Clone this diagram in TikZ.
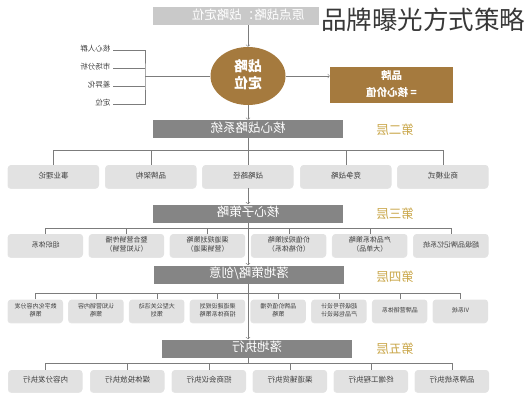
\documentclass[tikz,border=0pt]{standalone}
\usepackage{fontspec}
\usepackage{graphicx}
\usepackage{tikz}
\usepackage{xcolor}
\usetikzlibrary{shapes.geometric, shadows}
\newfontfamily\cjk{Noto Sans CJK SC}
\definecolor{brandbrown}{HTML}{A57A3E}
\definecolor{bargray}{HTML}{858585}
\definecolor{topgray}{HTML}{C9C9C9}
\definecolor{cellgray}{HTML}{E2E2E2}
\definecolor{linegray}{HTML}{7C7C7C}
\definecolor{layergold}{HTML}{C9A649}
\newcommand{\flip}[1]{\reflectbox{\begin{tabular}{@{}c@{}}#1\end{tabular}}}

\begin{document}
\begin{tikzpicture}[x=1pt, y=-1pt,
    conn/.style={draw=linegray, line width=0.6pt},
    topbar/.style={rectangle, fill=topgray, text=white, inner sep=0pt, minimum width=190pt, minimum height=18pt, font={\cjk\fontsize{12.5}{13}\selectfont}},
    bar/.style={rectangle, fill=bargray, text=white, inner sep=0pt, minimum width=190pt, minimum height=18pt, font={\cjk\fontsize{12.5}{13}\selectfont}},
    layer/.style={text=layergold, inner sep=0pt, font={\cjk\fontsize{12.5}{13}\selectfont}},
    cell/.style={rectangle, rounded corners=3pt, fill=cellgray, text=black!75, inner sep=0pt, minimum height=23pt, drop shadow={shadow xshift=-0.5pt, shadow yshift=-0.8pt, opacity=0.2}},
    cellii/.style={cell, minimum width=91pt, font={\cjk\fontsize{7.5}{9}\selectfont}},
    celliii/.style={cell, minimum width=75pt, font={\cjk\fontsize{7}{8.5}\selectfont}},
    celliv/.style={cell, minimum width=55pt, font={\cjk\fontsize{6}{7.5}\selectfont}},
    cellv/.style={cell, minimum width=74pt, minimum height=22pt, font={\cjk\fontsize{7.5}{9}\selectfont}},
    tag/.style={text=black!75, inner sep=2.5pt, anchor=east, font={\cjk\fontsize{7.5}{8}\selectfont}}
]
\useasboundingbox (0,0) rectangle (527,400);

\node[topbar] (top) at (248,16) {\flip{原点战略：战略定位}};
\node[fill=white, text=black!78, inner sep=2pt, anchor=west, font={\cjk\fontsize{25.5}{26}\selectfont}] (title) at (319,20) {品牌曝光方式策略};

\node[ellipse, fill=brandbrown, text=white, inner sep=0pt, minimum width=75pt, minimum height=58pt, font={\cjk\bfseries\fontsize{14}{16}\selectfont}] (hub) at (248,76) {\flip{战略\\定位}};
\node[rectangle, fill=brandbrown, text=white, inner sep=0pt, minimum width=123pt, minimum height=36pt, font={\cjk\bfseries\fontsize{10.5}{17}\selectfont}] (brand) at (391.5,85) {\flip{品牌\\= 核心价值}};

\node[tag] (t1) at (113,50) {\flip{核心人群}};
\node[tag] (t2) at (113,68) {\flip{市场分析}};
\node[tag] (t3) at (113,86) {\flip{差异化}};
\node[tag] (t4) at (113,104) {\flip{定位}};
\coordinate (tj) at (145,76);

\draw[conn, ->] (top) -- (hub);
\draw[conn, ->] (hub) -- (hub -| brand.west);
\draw[conn] (hub) -- (tj);
\draw[conn] (t1.east) -| (tj) |- (t4.east);
\draw[conn] (t2.east) -- (t2.east -| tj);
\draw[conn] (t3.east) -- (t3.east -| tj);

\node[bar] (bar2) at (248,129) {\flip{核心战略系统}};
\node[layer] (lay2) at (395,131) {\flip{第二层}};
\node[bar] (bar3) at (248,213.5) {\flip{核心子策略}};
\node[layer] (lay3) at (395,215) {\flip{第三层}};
\node[bar] (bar4) at (249,274.5) {\flip{落地策略/创意}};
\node[layer] (lay4) at (395,278) {\flip{第四层}};
\node[bar] (bar5) at (257,348.5) {\flip{落地执行}};
\node[layer] (lay5) at (395,350) {\flip{第五层}};

\draw[conn, ->] (hub) -- (bar2);
\draw[conn, ->] (bar3) -- (bar3 |- bar4.north);
\draw[conn, ->] (bar3 |- bar4.south) -- (bar3 |- bar5.north);
\draw[conn] (bar3 |- bar5.south) -- ++(0,6);

\coordinate (k2) at (0,150);
\coordinate (k3) at (0,228);
\coordinate (k4) at (0,293);
\coordinate (k5) at (0,363);

\node[cellii] (b2a) at (53.5,176.5) {\flip{事业理论}};
\node[cellii] (b2b) at (151,176.5) {\flip{品牌架构}};
\node[cellii] (b2c) at (248,176.5) {\flip{战略路径}};
\node[cellii] (b2d) at (346,176.5) {\flip{竞争战略}};
\node[cellii] (b2e) at (443,176.5) {\flip{商业模式}};

\draw[conn] (bar2) -- (b2c);
\draw[conn, ->] (b2c) -- (bar3);
\draw[conn] (b2a.north) -- (b2a.north |- k2) -| (b2e.north);
\draw[conn] (b2b.north) -- (b2b.north |- k2);
\draw[conn] (b2d.north) -- (b2d.north |- k2);

\node[celliii] (b3a) at (45.5,245.5) {\flip{组织体系}};
\node[celliii] (b3b) at (126.6,245.5) {\flip{整合营销传播\\（认知营销）}};
\node[celliii] (b3c) at (207.7,245.5) {\flip{渠道规划策略\\（营销渠道）}};
\node[celliii] (b3d) at (288.8,245.5) {\flip{价值规划策略\\（价格体系）}};
\node[celliii] (b3e) at (369.9,245.5) {\flip{产品体系策略\\（大单品）}};
\node[celliii] (b3f) at (451,245.5) {\flip{超级品牌记忆系统}};

\draw[conn] (b3a.north) -- (b3a.north |- k3) -| (b3f.north);
\draw[conn] (b3b.north) -- (b3b.north |- k3);
\draw[conn] (b3c.north) -- (b3c.north |- k3);
\draw[conn] (b3d.north) -- (b3d.north |- k3);
\draw[conn] (b3e.north) -- (b3e.north |- k3);

\node[celliv] (b4a) at (35.5,311) {\flip{数字化内容分发\\策略}};
\node[celliv] (b4b) at (96.2,311) {\flip{认知营销内容\\策略}};
\node[celliv] (b4c) at (156.9,311) {\flip{大型公关活动\\策划}};
\node[celliv] (b4d) at (217.6,311) {\flip{渠道建设规划\\招商体系策略}};
\node[celliv] (b4e) at (278.3,311) {\flip{品牌价值传播\\策略}};
\node[celliv] (b4f) at (339.1,311) {\flip{超级符号设计\\产品包装设计}};
\node[celliv] (b4g) at (399.8,311) {\flip{品牌营销体系}};
\node[celliv] (b4h) at (460.5,311) {\flip{VI系统}};

\draw[conn] (b4a.north) -- (b4a.north |- k4) -| (b4h.north);
\draw[conn] (b4b.north) -- (b4b.north |- k4);
\draw[conn] (b4c.north) -- (b4c.north |- k4);
\draw[conn] (b4d.north) -- (b4d.north |- k4);
\draw[conn] (b4e.north) -- (b4e.north |- k4);
\draw[conn] (b4f.north) -- (b4f.north |- k4);
\draw[conn] (b4g.north) -- (b4g.north |- k4);

\node[cellv] (b5a) at (45.5,381) {\flip{内容分发执行}};
\node[cellv] (b5b) at (127.5,381) {\flip{媒体投放执行}};
\node[cellv] (b5c) at (209,381) {\flip{招商会议执行}};
\node[cellv] (b5d) at (290,381) {\flip{渠道铺货执行}};
\node[cellv] (b5e) at (371,381) {\flip{终端工程执行}};
\node[cellv] (b5f) at (452,381) {\flip{品牌系统执行}};

\draw[conn] (b5a.north) -- (b5a.north |- k5) -| (b5f.north);
\draw[conn] (b5b.north) -- (b5b.north |- k5);
\draw[conn] (b5c.north) -- (b5c.north |- k5);
\draw[conn] (b5d.north) -- (b5d.north |- k5);
\draw[conn] (b5e.north) -- (b5e.north |- k5);
\end{tikzpicture}
\end{document}
